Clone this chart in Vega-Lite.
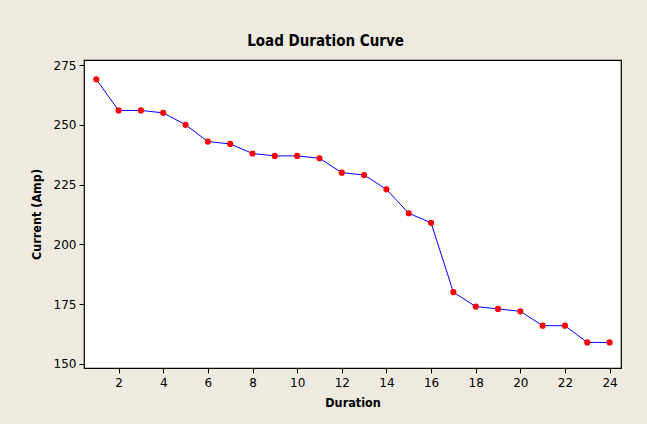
{
  "$schema": "https://vega.github.io/schema/vega-lite/v6.json",
  "width": 537,
  "height": 308,
  "autosize": {"type": "none"},
  "padding": {"left": 84, "top": 60, "right": 26, "bottom": 56},
  "background": "#EEEAE0",
  "title": {
    "text": "Load Duration Curve",
    "font": "DejaVu Sans Condensed",
    "fontSize": 15,
    "fontWeight": "bold",
    "color": "#000000",
    "anchor": "middle",
    "frame": "bounds",
    "offset": 10
  },
  "config": {
    "view": {"stroke": "#000000", "strokeWidth": 1.2, "fill": "#FFFFFF"},
    "axis": {
      "grid": false,
      "domain": false,
      "tickColor": "#000000",
      "tickSize": 5,
      "labelFont": "DejaVu Sans",
      "labelFontSize": 12,
      "labelColor": "#000000",
      "titleFont": "DejaVu Sans Condensed",
      "titleFontSize": 12.5,
      "titleFontWeight": "bold",
      "titleColor": "#000000"
    }
  },
  "data": {
    "values": [
      {"Duration": 1, "Current": 269},
      {"Duration": 2, "Current": 256},
      {"Duration": 3, "Current": 256},
      {"Duration": 4, "Current": 255},
      {"Duration": 5, "Current": 250},
      {"Duration": 6, "Current": 243},
      {"Duration": 7, "Current": 242},
      {"Duration": 8, "Current": 238},
      {"Duration": 9, "Current": 237},
      {"Duration": 10, "Current": 237},
      {"Duration": 11, "Current": 236},
      {"Duration": 12, "Current": 230},
      {"Duration": 13, "Current": 229},
      {"Duration": 14, "Current": 223},
      {"Duration": 15, "Current": 213},
      {"Duration": 16, "Current": 209},
      {"Duration": 17, "Current": 180},
      {"Duration": 18, "Current": 174},
      {"Duration": 19, "Current": 173},
      {"Duration": 20, "Current": 172},
      {"Duration": 21, "Current": 166},
      {"Duration": 22, "Current": 166},
      {"Duration": 23, "Current": 159},
      {"Duration": 24, "Current": 159}
    ]
  },
  "encoding": {
    "x": {
      "field": "Duration",
      "type": "quantitative",
      "scale": {"domain": [0.45, 24.51], "nice": false, "zero": false},
      "axis": {"values": [2,4,6,8,10,12,14,16,18,20,22,24], "title": "Duration", "labelPadding": 4, "titlePadding": 8}
    },
    "y": {
      "field": "Current",
      "type": "quantitative",
      "scale": {"domain": [148.3, 277.1], "nice": false, "zero": false},
      "axis": {"values": [150,175,200,225,250,275], "title": "Current (Amp)", "labelPadding": 3, "titlePadding": 10}
    }
  },
  "layer": [
    {"mark": {"type": "line", "color": "#0000FF", "strokeWidth": 1}},
    {"mark": {"type": "point", "filled": true, "color": "#FF0000", "opacity": 1, "size": 38}}
  ]
}
